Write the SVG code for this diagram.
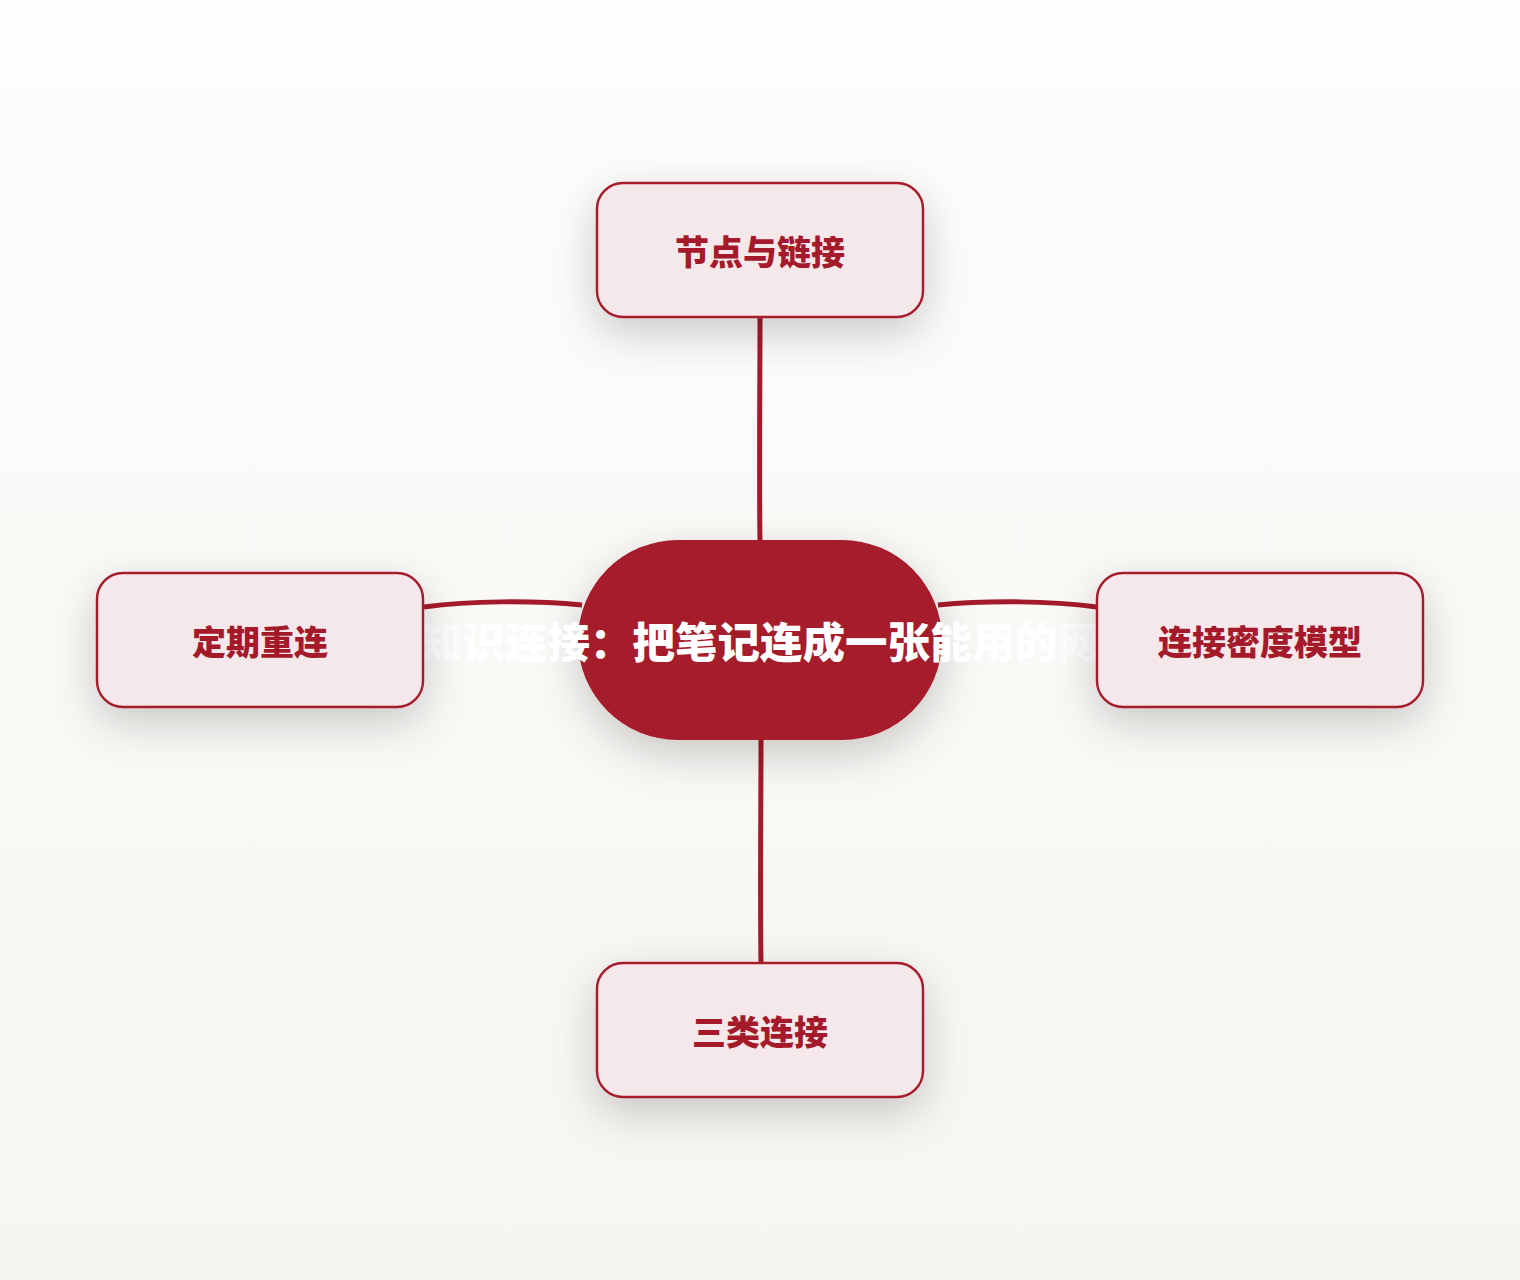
<svg xmlns="http://www.w3.org/2000/svg" width="1520" height="1280" viewBox="0 0 1520 1280">
<defs>
<linearGradient id="bg" x1="0" y1="0" x2="0" y2="1">
<stop offset="0" stop-color="#FDFDFC"/>
<stop offset="1" stop-color="#F7F5F1"/>
</linearGradient>
<filter id="sh" x="-40%" y="-60%" width="180%" height="230%">
<feDropShadow dx="0" dy="14" stdDeviation="22" flood-color="#000000" flood-opacity="0.2"/>
</filter>
</defs>
<style>
.leaf rect{fill:#F5E8EA;stroke:#A51A2A;stroke-width:2.4}
.leaf text{fill:#A51A2A;font-family:"Noto Sans CJK SC","Noto Sans",sans-serif;font-weight:900;font-size:34px;text-anchor:middle}
.conn path{fill:none;stroke:#A51A2A;stroke-width:5;stroke-linecap:butt}
.center rect{fill:#A51A2A}
.center text{fill:#FFFFFF;font-family:"Noto Sans CJK SC","Noto Sans",sans-serif;font-weight:900;font-size:42.5px;text-anchor:middle}
</style>
<rect x="0" y="0" width="1520" height="1280" fill="url(#bg)"/>
<g id="connectors" class="conn">
<path d="M760,317 C760,390 759,470 760,542"/>
<path d="M761,738 C761,810 760,890 761,963"/>
<path d="M424,607 C470,601 530,600 582,605"/>
<path d="M938,605 C990,600 1050,601 1097,607"/>
</g>
<g id="center" class="center">
<rect x="578" y="540" width="364" height="200" rx="100" ry="100" filter="url(#sh)"/>
<text x="760" y="658">知识连接：把笔记连成一张能用的网</text>
</g>
<g id="node-top" class="leaf">
<rect x="597" y="183" width="326" height="134" rx="26" filter="url(#sh)"/>
<text x="760" y="265">节点与链接</text>
</g>
<g id="node-left" class="leaf">
<rect x="97" y="573" width="326" height="134" rx="26" filter="url(#sh)"/>
<text x="260" y="655">定期重连</text>
</g>
<g id="node-right" class="leaf">
<rect x="1097" y="573" width="326" height="134" rx="26" filter="url(#sh)"/>
<text x="1260" y="655">连接密度模型</text>
</g>
<g id="node-bottom" class="leaf">
<rect x="597" y="963" width="326" height="134" rx="26" filter="url(#sh)"/>
<text x="760" y="1045">三类连接</text>
</g>
</svg>
